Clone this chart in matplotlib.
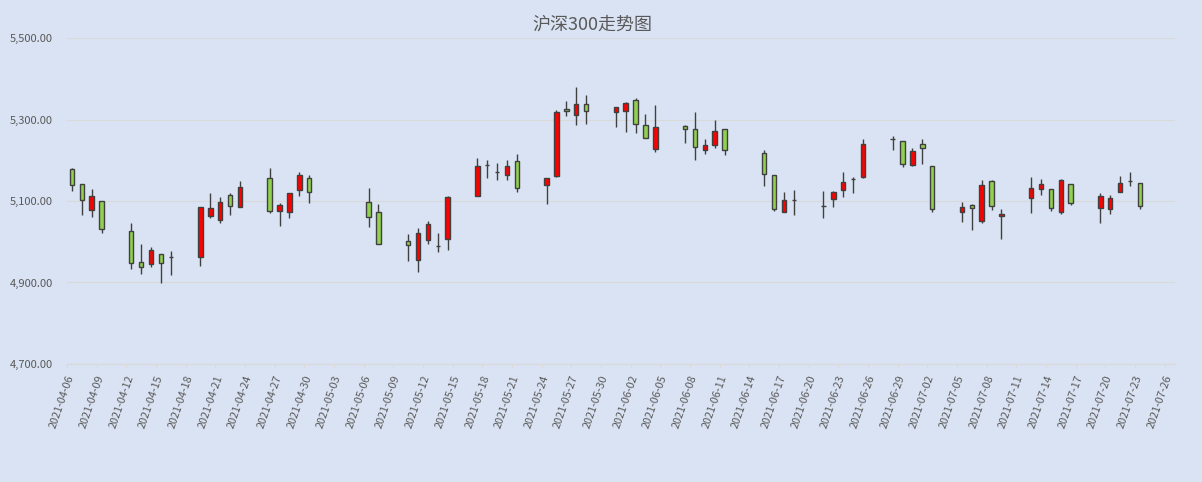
import matplotlib
matplotlib.use("Agg")
import matplotlib.pyplot as plt
import matplotlib.dates as mdates
import matplotlib.transforms as mtransforms
from matplotlib.ticker import FuncFormatter, FixedLocator
import pandas as pd
import numpy as np

plt.rcParams['font.family'] = ['Noto Sans CJK SC', 'DejaVu Sans']

title = "沪深300走势图"

dates = ["2021-04-06", "2021-04-07", "2021-04-08", "2021-04-09",
         "2021-04-12", "2021-04-13", "2021-04-14", "2021-04-15", "2021-04-16",
         "2021-04-19", "2021-04-20", "2021-04-21", "2021-04-22", "2021-04-23",
         "2021-04-26", "2021-04-27", "2021-04-28", "2021-04-29", "2021-04-30",
         "2021-05-06", "2021-05-07",
         "2021-05-10", "2021-05-11", "2021-05-12", "2021-05-13", "2021-05-14",
         "2021-05-17", "2021-05-18", "2021-05-19", "2021-05-20", "2021-05-21",
         "2021-05-24", "2021-05-25", "2021-05-26", "2021-05-27", "2021-05-28",
         "2021-05-31", "2021-06-01", "2021-06-02", "2021-06-03", "2021-06-04",
         "2021-06-07", "2021-06-08", "2021-06-09", "2021-06-10", "2021-06-11",
         "2021-06-15", "2021-06-16", "2021-06-17", "2021-06-18",
         "2021-06-21", "2021-06-22", "2021-06-23", "2021-06-24", "2021-06-25",
         "2021-06-28", "2021-06-29", "2021-06-30", "2021-07-01", "2021-07-02",
         "2021-07-05", "2021-07-06", "2021-07-07", "2021-07-08", "2021-07-09",
         "2021-07-12", "2021-07-13", "2021-07-14", "2021-07-15", "2021-07-16",
         "2021-07-19", "2021-07-20", "2021-07-21", "2021-07-22", "2021-07-23"]

opens = [5178.5, 5141.0, 5077.0, 5099.0,
         5025.6, 4949.6, 4944.7, 4969.2, 4963.0,
         4963.3, 5063.9, 5054.0, 5114.0, 5085.0,
         5155.7, 5074.7, 5072.3, 5126.3, 5155.7,
         5096.8, 5072.3,
         5001.0, 4954.5, 5003.6, 4990.0, 5006.0,
         5113.0, 5187.5, 5171.5, 5164.5, 5197.4,
         5138.5, 5162.1, 5325.0, 5310.3, 5337.3,
         5317.7, 5320.1, 5347.1, 5285.8, 5226.9,
         5283.3, 5276.0, 5224.4, 5236.7, 5276.0,
         5217.0, 5163.1, 5072.3, 5103.0,
         5087.5, 5104.2, 5126.3, 5153.8, 5158.2,
         5251.8, 5246.5, 5187.6, 5239.1, 5185.1,
         5072.3, 5089.4, 5050.2, 5148.3, 5062.4,
         5106.6, 5128.7, 5128.7, 5072.3, 5141.0,
         5082.0, 5079.6, 5121.3, 5149.5, 5143.4]

highs = [5181.0, 5141.0, 5128.7, 5099.0,
         5046.0, 4993.7, 4986.4, 4969.2, 4976.5,
         5086.0, 5119.6, 5109.0, 5119.6, 5148.4,
         5180.2, 5094.4, 5119.0, 5170.4, 5163.1,
         5131.2, 5091.9,
         5018.3, 5033.0, 5051.0, 5020.7, 5112.3,
         5204.8, 5199.9, 5192.5, 5199.9, 5214.6,
         5155.7, 5322.6, 5344.7, 5379.0, 5359.4,
         5330.0, 5342.2, 5352.0, 5312.8, 5334.8,
         5285.8, 5317.7, 5251.4, 5298.0, 5276.0,
         5224.4, 5163.1, 5121.3, 5126.3,
         5123.8, 5123.8, 5170.4, 5158.2, 5251.4,
         5258.8, 5246.5, 5229.3, 5251.4, 5185.1,
         5096.8, 5091.9, 5150.8, 5150.8, 5079.6,
         5158.2, 5153.3, 5128.7, 5153.3, 5141.0,
         5118.9, 5114.0, 5160.6, 5170.4, 5143.4]

lows = [5123.8, 5065.0, 5060.0, 5020.7,
        4932.4, 4922.0, 4938.8, 4898.0, 4917.7,
        4939.7, 5057.5, 5046.0, 5065.0, 5085.0,
        5071.3, 5039.4, 5057.5, 5111.5, 5094.4,
        5035.5, 4993.7,
        4952.0, 4925.0, 4993.7, 4974.0, 4979.0,
        5113.0, 5155.7, 5150.8, 5150.8, 5121.3,
        5091.9, 5159.6, 5307.9, 5285.8, 5288.2,
        5280.9, 5268.6, 5266.0, 5253.9, 5219.5,
        5241.6, 5199.9, 5214.6, 5229.3, 5212.1,
        5136.0, 5074.7, 5072.3, 5065.0,
        5057.5, 5084.5, 5109.0, 5118.9, 5155.7,
        5224.4, 5182.7, 5185.1, 5190.1, 5072.3,
        5047.7, 5028.0, 5045.3, 5077.0, 5006.0,
        5069.8, 5114.0, 5074.7, 5067.4, 5089.4,
        5045.3, 5067.4, 5121.3, 5136.0, 5079.6]

closes = [5138.5, 5101.7, 5111.5, 5032.0,
          4947.0, 4937.3, 4979.7, 4947.0, 4963.5,
          5086.0, 5082.0, 5096.8, 5087.0, 5133.6,
          5076.2, 5089.4, 5118.9, 5163.1, 5121.3,
          5060.0, 4993.7,
          4991.3, 5020.7, 5042.8, 4990.6, 5109.8,
          5185.1, 5189.0, 5172.3, 5185.1, 5132.6,
          5155.7, 5317.7, 5320.1, 5337.3, 5320.1,
          5329.9, 5339.8, 5288.5, 5253.9, 5280.9,
          5276.0, 5231.8, 5236.7, 5271.0, 5224.4,
          5165.5, 5079.6, 5101.7, 5103.5,
          5088.0, 5121.3, 5145.9, 5154.3, 5239.1,
          5252.4, 5190.1, 5221.9, 5229.3, 5079.6,
          5084.5, 5082.0, 5138.5, 5087.0, 5067.4,
          5131.2, 5141.0, 5082.0, 5150.8, 5094.4,
          5111.5, 5106.6, 5143.4, 5150.0, 5087.0]

tick_start = "2021-04-06"
tick_end = "2021-07-26"
y_min, y_max, y_step = 4700, 5500, 200

up_color = "#FF0000"
down_color = "#92D050"
edge_color = "#404040"
bg_color = "#DAE3F3"
grid_color = "#D9D9D9"
text_color = "#595959"

fig = plt.figure(figsize=(12.02, 4.82), dpi=100, facecolor=bg_color)
ax = fig.add_axes([67 / 1202, 1 - 364 / 482, (1174.5 - 67) / 1202, (364 - 38) / 482])
ax.set_facecolor(bg_color)

x = mdates.date2num(pd.to_datetime(dates))
o = np.array(opens)
h = np.array(highs)
l = np.array(lows)
c = np.array(closes)
colors = [up_color if cc >= oo else down_color for oo, cc in zip(o, c)]

ax.vlines(x, l, h, color=edge_color, linewidth=1.0, zorder=2)
ax.bar(x, np.abs(c - o), bottom=np.minimum(o, c), width=0.45,
       color=colors, edgecolor=edge_color, linewidth=1.0, zorder=3)

tick_dates = pd.date_range(tick_start, tick_end, freq="3D")
tick_pos = mdates.date2num(tick_dates) - 0.5
ax.set_xlim(mdates.date2num(pd.Timestamp(tick_start)) - 0.5,
            mdates.date2num(pd.Timestamp(tick_end)) + 0.5)
ax.xaxis.set_major_locator(FixedLocator(tick_pos))
ax.set_xticklabels([d.strftime("%Y-%m-%d") for d in tick_dates])
ax.tick_params(axis="x", length=3, width=0.8, color=grid_color, pad=5,
               labelsize=7.8, labelcolor=text_color)
shift = mtransforms.ScaledTranslation(4 / 100, 0, fig.dpi_scale_trans)
for lab in ax.get_xticklabels():
    lab.set_rotation(71)
    lab.set_rotation_mode("anchor")
    lab.set_ha("right")
    lab.set_va("center")
    lab.set_transform(lab.get_transform() + shift)

ax.set_ylim(y_min, y_max)
ax.set_yticks(np.arange(y_min, y_max + 1, y_step))
ax.yaxis.set_major_formatter(FuncFormatter(lambda v, p: f"{v:,.2f}"))
ax.tick_params(axis="y", length=0, pad=10, labelsize=8, labelcolor=text_color)
ax.grid(axis="y", color=grid_color, linewidth=0.8, zorder=0)
ax.set_axisbelow(True)

for s in ["top", "right", "left"]:
    ax.spines[s].set_visible(False)
ax.spines["bottom"].set_color(grid_color)
ax.spines["bottom"].set_linewidth(0.8)

fig.text(592 / 1202, 1 - 25 / 482, title, ha="center", va="center",
         fontsize=13, color=text_color)

fig.savefig("out.png", dpi=100, facecolor=bg_color)
